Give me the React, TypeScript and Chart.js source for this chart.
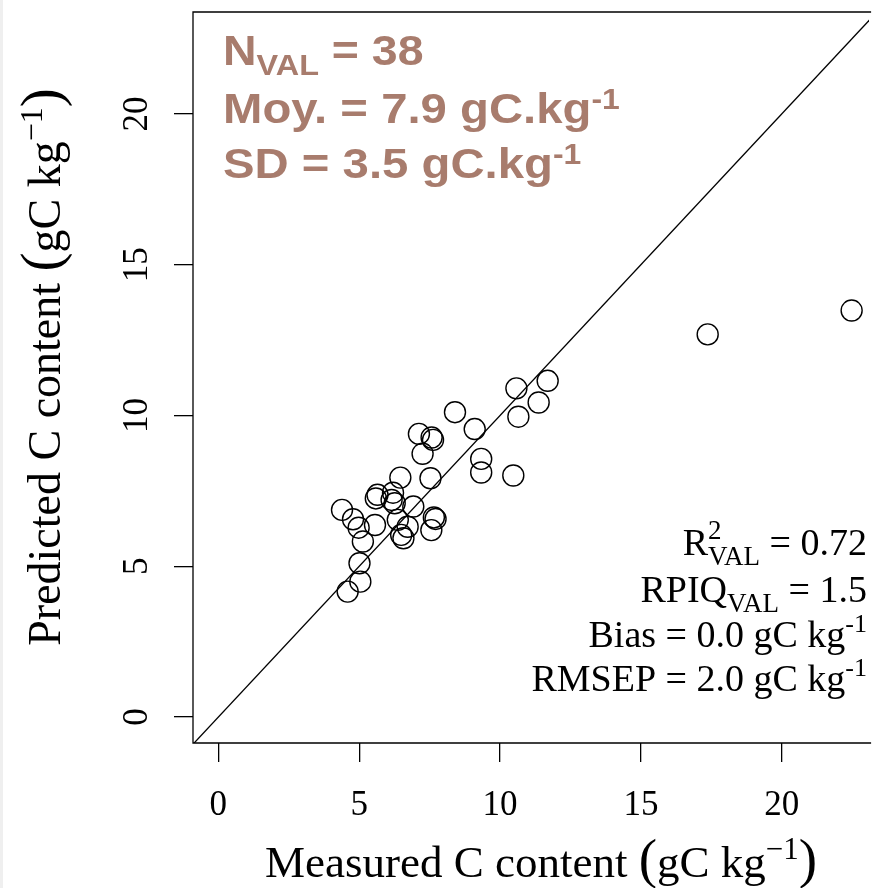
import React, { useEffect, useRef } from "react";
import { Chart, registerables } from "chart.js";

Chart.register(...registerables);

// ---- data ----
const measured = [
  11.69, 10.58, 11.37, 10.65, 8.4, 9.1, 7.12, 7.57, 7.62, 7.25,
  9.33, 9.33, 10.47, 6.46, 7.53, 5.65, 5.59, 6.2, 6.26, 6.92,
  4.39, 4.78, 4.98, 5.56, 5.13, 6.37, 6.72, 7.65, 7.71, 7.56,
  6.49, 6.57, 5.01, 5.04, 4.59, 17.37, 22.48, 6.15,
];
const predicted = [
  11.15, 10.9, 10.43, 9.96, 10.11, 9.55, 9.39, 9.27, 9.19, 8.73,
  8.56, 8.11, 8.01, 7.94, 7.92, 7.37, 7.25, 7.44, 7.09, 6.98,
  6.87, 6.56, 6.28, 6.37, 5.82, 6.54, 6.31, 6.62, 6.57, 6.2,
  6.04, 5.93, 5.1, 4.49, 4.16, 12.69, 13.48, 7.2,
];
const xTickValues = [0, 5, 10, 15, 20];
const yTickValues = [0, 5, 10, 15, 20];
const identityEnds = [-2, 26];
const X_MIN = -0.9;
const X_MAX = 23.1;
const Y_MIN = -0.86;
const Y_MAX = 23.38;

const BROWN = "#a87c6d";
const SERIF = '"Liberation Serif", "Times New Roman", serif';
const SANS = '"Liberation Sans", Arial, sans-serif';

type Part = {
  t: string;
  size: number;
  dy?: number;
  bold?: boolean;
  family?: string;
  noAdvance?: boolean;
};

function fontOf(p: Part) {
  return `${p.bold ? "bold " : ""}${p.size}px ${p.family || SERIF}`;
}

function drawParts(
  ctx: CanvasRenderingContext2D,
  parts: Part[],
  x: number,
  y: number,
  align: "left" | "right" | "center",
  color: string,
  hscale = 1
) {
  ctx.save();
  ctx.fillStyle = color;
  ctx.textAlign = "left";
  ctx.textBaseline = "alphabetic";
  let total = 0;
  let pending = 0;
  for (const p of parts) {
    ctx.font = fontOf(p);
    const w = ctx.measureText(p.t).width;
    if (p.noAdvance) {
      pending = Math.max(pending, w);
    } else {
      total += Math.max(w, pending);
      pending = 0;
    }
  }
  total += pending;
  total *= hscale;
  const cx = align === "left" ? x : align === "right" ? x - total : x - total / 2;
  ctx.translate(cx, y);
  ctx.scale(hscale, 1);
  let cur = 0;
  pending = 0;
  for (const p of parts) {
    ctx.font = fontOf(p);
    const w = ctx.measureText(p.t).width;
    ctx.fillText(p.t, cur, p.dy || 0);
    if (p.noAdvance) {
      pending = Math.max(pending, w);
    } else {
      cur += Math.max(w, pending);
      pending = 0;
    }
  }
  ctx.restore();
}

const decorPlugin = {
  id: "decor",
  afterDraw(chart: any) {
    const ctx: CanvasRenderingContext2D = chart.ctx;
    const { left, top, right, bottom } = chart.chartArea;
    const xs = chart.scales.x;
    const ys = chart.scales.y;

    // box
    ctx.save();
    ctx.strokeStyle = "#000";
    ctx.lineWidth = 1.3;
    ctx.beginPath();
    ctx.moveTo(right + 2, top);
    ctx.lineTo(left, top);
    ctx.lineTo(left, bottom);
    ctx.lineTo(right + 2, bottom);
    ctx.stroke();
    ctx.restore();

    // x tick labels
    ctx.save();
    ctx.fillStyle = "#000";
    ctx.font = `35px ${SERIF}`;
    ctx.textAlign = "center";
    ctx.textBaseline = "alphabetic";
    xs.ticks.forEach((t: any) => {
      ctx.fillText(String(t.value), xs.getPixelForValue(t.value), 815);
    });
    ctx.restore();

    // y tick labels (rotated)
    ys.ticks.forEach((t: any) => {
      ctx.save();
      ctx.translate(147, ys.getPixelForValue(t.value));
      ctx.rotate(-Math.PI / 2);
      ctx.fillStyle = "#000";
      ctx.font = `35px ${SERIF}`;
      ctx.textAlign = "center";
      ctx.textBaseline = "alphabetic";
      ctx.fillText(String(t.value), 0, 0);
      ctx.restore();
    });

    // axis titles
    const titleParts: Part[] = [
      { t: "Measured C content ", size: 45 },
      { t: "(", size: 55 },
      { t: "gC kg", size: 45 },
      { t: "\u22121", size: 31, dy: -18 },
      { t: ")", size: 55 },
    ];
    drawParts(ctx, titleParts, 541, 877, "center", "#000");
    const yTitleParts: Part[] = [
      { t: "Predicted C content ", size: 46 },
      { t: "(", size: 57 },
      { t: "gC kg", size: 46 },
      { t: "\u22121", size: 32, dy: -18 },
      { t: ")", size: 57 },
    ];
    ctx.save();
    ctx.translate(60, 367);
    ctx.rotate(-Math.PI / 2);
    drawParts(ctx, yTitleParts, 0, 0, "center", "#000");
    ctx.restore();

    // brown annotation block
    const B = (t: string, size: number, dy = 0): Part => ({ t, size, dy, bold: true, family: SANS });
    drawParts(ctx, [B("N", 43), B("VAL", 30, 10), B(" = 38", 43)], 223, 65, "left", BROWN, 1.08);
    drawParts(ctx, [B("Moy. = 7.9 gC.kg", 43), B("-1", 29, -14)], 223, 123, "left", BROWN, 1.1);
    drawParts(ctx, [B("SD = 3.5 gC.kg", 43), B("-1", 29, -14)], 223, 178, "left", BROWN, 1.1);

    // statistics block
    const S = (t: string, size: number, dy = 0, noAdvance = false): Part => ({ t, size, dy, noAdvance });
    const RX = 867;
    drawParts(ctx, [S("R", 38), S("2", 27, -16, true), S("VAL", 27, 10), S(" = 0.72", 38)], RX, 555, "right", "#000");
    drawParts(ctx, [S("RPIQ", 38), S("VAL", 27, 10), S(" = 1.5", 38)], RX, 602, "right", "#000");
    drawParts(ctx, [S("Bias = 0.0 gC kg", 38), S("-1", 26, -15)], RX, 647, "right", "#000");
    drawParts(ctx, [S("RMSEP = 2.0 gC kg", 38), S("-1", 26, -15)], RX, 691, "right", "#000");
  },
};

export default function App() {
  const canvasRef = useRef<HTMLCanvasElement | null>(null);

  useEffect(() => {
    const canvas = canvasRef.current;
    if (!canvas) return;
    const points = measured.map((m, i) => ({ x: m, y: predicted[i] }));
    const identity = identityEnds.map((v) => ({ x: v, y: v }));

    const chart = new Chart(canvas, {
      type: "scatter",
      data: {
        datasets: [
          {
            type: "line",
            label: "1:1",
            data: identity,
            borderColor: "#000",
            borderWidth: 1.3,
            pointRadius: 0,
            fill: false,
            clip: 0,
            order: 2,
          } as any,
          {
            type: "scatter",
            label: "Validation",
            data: points,
            pointRadius: 10.5,
            pointHoverRadius: 10.5,
            borderColor: "#000",
            borderWidth: 1.4,
            backgroundColor: "rgba(0,0,0,0)",
            order: 1,
          } as any,
        ],
      },
      options: {
        animation: false,
        responsive: true,
        maintainAspectRatio: false,
        events: [],
        layout: { padding: { left: 0, top: 12, right: 0, bottom: 0 } },
        plugins: {
          legend: { display: false },
          tooltip: { enabled: false },
          title: { display: false },
        },
        scales: {
          x: {
            type: "linear",
            min: X_MIN,
            max: X_MAX,
            afterBuildTicks: (s: any) => {
              s.ticks = xTickValues.map((v) => ({ value: v }));
            },
            afterFit: (s: any) => {
              s.height = 145;
            },
            ticks: { display: false },
            grid: {
              display: true,
              drawOnChartArea: false,
              drawTicks: true,
              tickLength: 19,
              color: "#000",
              lineWidth: 1.3,
            },
            border: { display: false },
          },
          y: {
            type: "linear",
            min: Y_MIN,
            max: Y_MAX,
            afterBuildTicks: (s: any) => {
              s.ticks = yTickValues.map((v) => ({ value: v }));
            },
            afterFit: (s: any) => {
              s.width = 193;
            },
            ticks: { display: false },
            grid: {
              display: true,
              drawOnChartArea: false,
              drawTicks: true,
              tickLength: 19,
              color: "#000",
              lineWidth: 1.3,
            },
            border: { display: false },
          },
        },
      } as any,
      plugins: [decorPlugin],
    });
    return () => chart.destroy();
  }, []);

  return (
    <div
      style={{
        position: "absolute",
        left: 0,
        top: 0,
        width: 881,
        height: 888,
        background: "#fff",
        overflow: "hidden",
      }}
    >
      <div
        style={{
          position: "absolute",
          left: 0,
          top: 0,
          width: 3,
          height: 888,
          background: "#efefef",
        }}
      />
      <canvas ref={canvasRef} width={881} height={888} />
    </div>
  );
}
